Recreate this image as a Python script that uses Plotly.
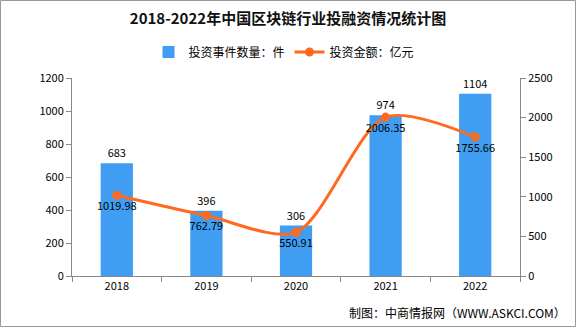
import plotly.graph_objects as go

years = ["2018", "2019", "2020", "2021", "2022"]
events = [683, 396, 306, 974, 1104]
amounts = [1019.98, 762.79, 550.91, 2006.35, 1755.66]
amount_labels = ["1019.98", "762.79", "550.91", "2006.35", "1755.66"]

FONT = "Noto Sans CJK SC"
W, H = 576, 327
L, R, T, B = 72, 56, 78, 51
pw, ph = W - L - R, H - T - B

fig = go.Figure()
fig.add_trace(go.Bar(
    x=years, y=events, name="投资事件数量：件",
    marker=dict(color="#409EF2", line=dict(width=0)),
    width=0.36,
    text=[str(v) for v in events], textposition="outside",
    textfont=dict(family=FONT, size=11, color="#000"),
    cliponaxis=False,
))
fig.add_trace(go.Scatter(
    x=years, y=amounts, name="投资金额：亿元", yaxis="y2",
    mode="lines+markers+text",
    line=dict(color="#FF6A1F", width=3, shape="spline", smoothing=0.8),
    marker=dict(color="#FF6A1F", size=9),
    text=amount_labels, textposition="bottom center",
    textfont=dict(family=FONT, size=11, color="#000"),
    cliponaxis=False,
))

def px2paper_x(p):
    return (p - L) / pw

def px2paper_y(p):
    return (H - B - p) / ph

fig.update_layout(
    width=W, height=H,
    margin=dict(l=L, r=R, t=T, b=B),
    paper_bgcolor="white", plot_bgcolor="white",
    font=dict(family=FONT, size=11, color="#000"),
    title=dict(text="<b>2018-2022年中国区块链行业投融资情况统计图</b>",
               x=0.5, xanchor="center", y=1 - 19 / H, yanchor="middle",
               font=dict(family=FONT, size=15, color="#111")),
    showlegend=True,
    legend=dict(orientation="h", x=px2paper_x(284), xanchor="center",
                y=px2paper_y(52), yanchor="middle",
                font=dict(family=FONT, size=12, color="#000"),
                itemwidth=30, traceorder="normal", bgcolor="rgba(0,0,0,0)"),
    bargap=0.64,
    xaxis=dict(type="category", showline=True, linecolor="#888", linewidth=1,
               ticks="outside", tickson="boundaries", ticklen=5, tickcolor="#888",
               showgrid=False, tickfont=dict(family=FONT, size=11)),
    yaxis=dict(range=[0, 1200], dtick=200, showline=True, linecolor="#888",
               linewidth=1, ticks="outside", ticklen=5, tickcolor="#888",
               showgrid=False, zeroline=False, tickfont=dict(family=FONT, size=11)),
    yaxis2=dict(range=[0, 2500], dtick=500, overlaying="y", side="right",
                showline=True, linecolor="#888", linewidth=1, ticks="outside",
                ticklen=5, tickcolor="#888", showgrid=False, zeroline=False,
                tickfont=dict(family=FONT, size=11)),
)

fig.add_shape(type="rect", xref="paper", yref="paper",
              x0=px2paper_x(0.5), x1=px2paper_x(W - 0.5),
              y0=px2paper_y(H - 0.5), y1=px2paper_y(0.5),
              line=dict(color="#999", width=1), fillcolor="rgba(0,0,0,0)", layer="below")

fig.add_annotation(text="制图：中商情报网（WWW.ASKCI.COM）", xref="paper", yref="paper",
                   x=px2paper_x(568), xanchor="right", y=px2paper_y(312), yanchor="middle",
                   showarrow=False, font=dict(family=FONT, size=12, color="#000"))

fig.write_html("out.html")
